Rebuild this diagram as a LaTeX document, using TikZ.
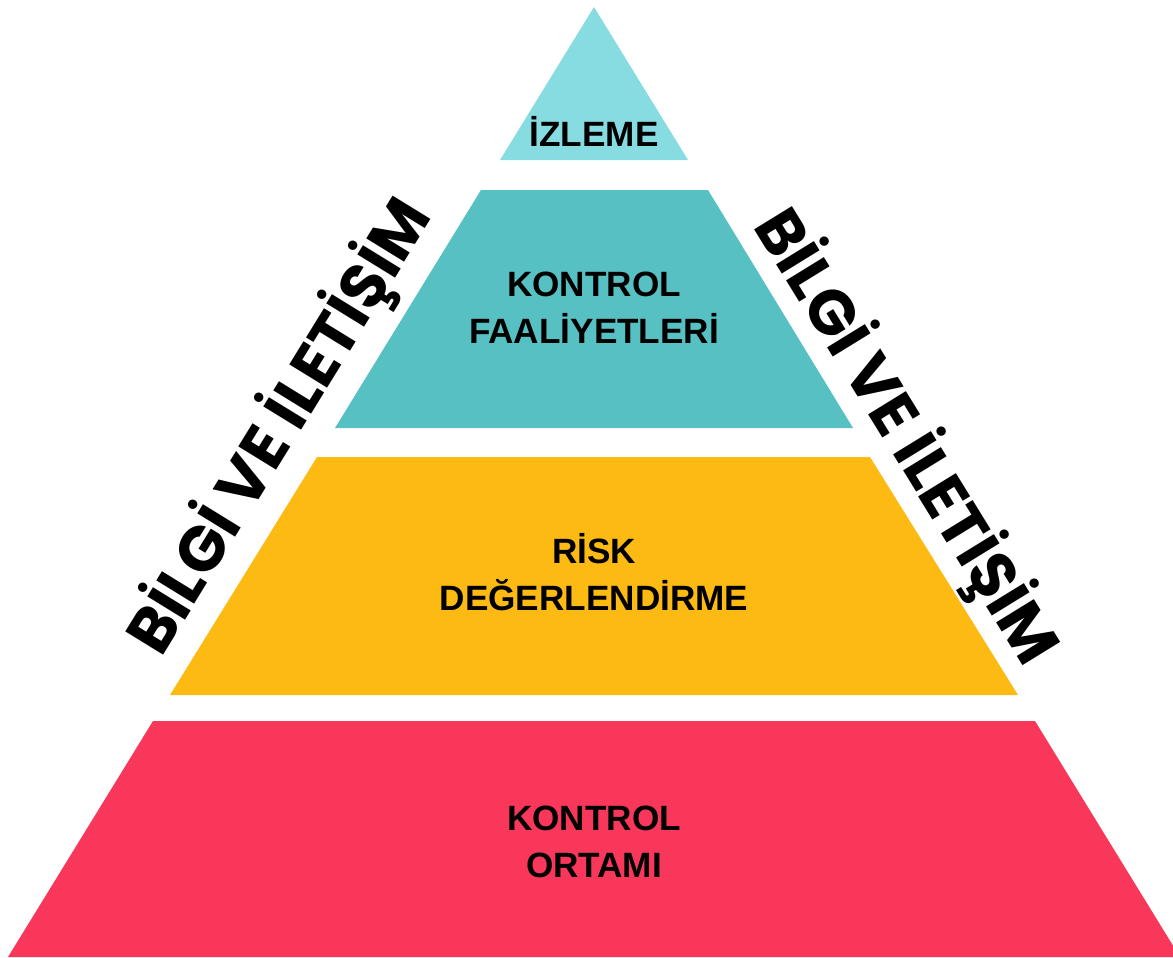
\documentclass[tikz,border=0pt]{standalone}
\usepackage{fontspec}
\setmainfont{Liberation Sans}
\newfontfamily\sidefont{Poppins}
\definecolor{cTop}{HTML}{86DCE1}
\definecolor{cCtl}{HTML}{56C0C3}
\definecolor{cRisk}{HTML}{FDBA12}
\definecolor{cEnv}{HTML}{F9375B}
\begin{document}
\begin{tikzpicture}[x=0.02cm,y=-0.02cm,
  lvl/.style={align=center,font=\fontsize{20}{26.2}\selectfont\bfseries,text=black,inner sep=0pt},
  side/.style={font=\sidefont\fontsize{36}{40}\selectfont\bfseries,text=black,inner sep=0pt}]
\useasboundingbox (0,0) rectangle (1173,957);
\clip (0,0) rectangle (1173,957);
\fill[cTop] (594,7) -- (688,160) -- (500,160) -- cycle;
\fill[cCtl] (481,190) -- (708,190) -- (853,428) -- (335,428) -- cycle;
\fill[cRisk] (317,457) -- (870,457) -- (1018,695) -- (170,695) -- cycle;
\fill[cEnv] (153,721) -- (1035,721) -- (1180,957) -- (8,957) -- cycle;
\node[lvl,anchor=base] (izleme) at (594,146) {İZLEME};
\node[lvl,anchor=base] (kontrol) at (594,343) {KONTROL\\FAALİYETLERİ};
\node[lvl,anchor=base] (risk) at (594,610) {RİSK\\DEĞERLENDİRME};
\node[lvl,anchor=base] (ortam) at (594,877) {KONTROL\\ORTAMI};
\node[side,rotate=58.4] (bl) at (280,427) {BİLGİ VE İLETİŞİM};
\node[side,rotate=-58.4] (br) at (906,437) {BİLGİ VE İLETİŞİM};
\end{tikzpicture}
\end{document}
